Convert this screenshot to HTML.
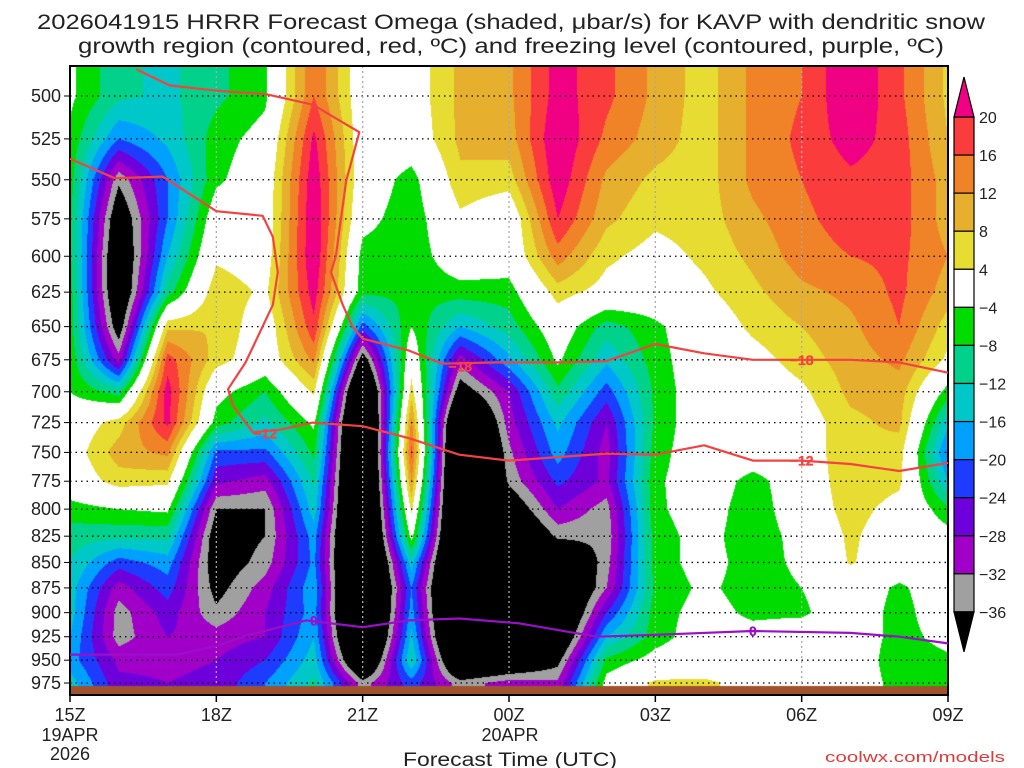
<!DOCTYPE html>
<html><head><meta charset="utf-8">
<style>
html,body{margin:0;padding:0;background:#fff;}
#wrap{position:relative;width:1024px;height:768px;overflow:hidden;background:#fff;}
canvas,svg{position:absolute;left:0;top:0;}
text{font-family:"Liberation Sans",sans-serif;}
</style></head>
<body>
<div id="wrap">
<canvas id="cv" width="1024" height="768"></canvas>
<svg id="sv" width="1024" height="768">
<text x="511" y="29" text-anchor="middle" font-size="21" fill="#222" textLength="948" lengthAdjust="spacingAndGlyphs">2026041915 HRRR Forecast Omega (shaded, μbar/s) for KAVP with dendritic snow</text>
<text x="511" y="53" text-anchor="middle" font-size="21" fill="#222" textLength="866" lengthAdjust="spacingAndGlyphs">growth region (contoured, red, ºC) and freezing level (contoured, purple, ºC)</text>
<text x="70" y="741" text-anchor="middle" font-size="18" fill="#222">19APR</text>
<text x="70" y="760" text-anchor="middle" font-size="18" fill="#222">2026</text>
<text x="510" y="741" text-anchor="middle" font-size="18" fill="#222">20APR</text>
<text x="510" y="766" text-anchor="middle" font-size="19" fill="#222" textLength="214" lengthAdjust="spacingAndGlyphs">Forecast Time (UTC)</text>
<text x="1005" y="762" text-anchor="end" font-size="15" fill="#e03a3a" textLength="180" lengthAdjust="spacingAndGlyphs">coolwx.com/models</text>
</svg>
</div>
<script>
// ---- data ----
const hours = [0,1,2,3,4,5,6,7,8,9,10,11,12,13,14,15,16,17,18];
const xTickLabels = ["15Z","18Z","21Z","00Z","03Z","06Z","09Z"];
const xTickHours = [0,3,6,9,12,15,18];
const levels = [500,525,550,575,600,625,650,675,700,725,750,775,800,825,850,875,900,925,950,975];
const cbBounds = [20,16,12,8,4,-4,-8,-12,-16,-20,-24,-28,-32,-36];
// omega by hour column (values at levels 500..975)
const omegaCols = [
[-3,-5,-6,-7,-7,-6,-6,-5,-4,0,1,0,-6,-10,-12,-14,-14,-16,-18,-14],
[-11,-20,-35,-42,-45,-45,-40,-30,-10,6,10,6,-4,-11,-22,-30,-34,-34,-29,-27],
[-13,-15,-20,-20,-16,-10,7,18,22,21,13,5,-3,-11,-18,-22,-26,-28,-29,-28],
[-9,-6,-5,0,3,7,8,6,-2,-6,-21,-27,-36,-40,-40,-38,-35,-30,-28,-27],
[-5,-2,0,0,1,3,0,0,-8,-13,-21,-30,-36,-36,-34,-30,-28,-28,-24,-20],
[16,21,23,24,24,22,19,13,5,-3,-7,-11,-14,-18,-19,-17,-18,-16,-14,-11],
[0,0,0,-2,-6,-7,-22,-40,-55,-60,-60,-60,-60,-60,-60,-60,-60,-58,-50,-34],
[1,0,-6,-7,-7,-7,-4,1,6,13,17,12,5,-2,-14,-20,-18,-15,-12,-22],
[9,9,7,3,0,-6,-16,-30,-40,-55,-60,-60,-60,-60,-60,-60,-60,-58,-50,-34],
[11,10,6,-1,-1,-6,-10,-17,-28,-30,-33,-35,-42,-48,-50,-50,-50,-50,-45,-30],
[22,24,23,20,14,6,0,-3,-9,-15,-18,-23,-28,-35,-45,-50,-50,-46,-38,-31],
[17,15,11,9,5,2,-10,-15,-22,-28,-30,-29,-34,-35,-34,-32,-24,-16,-7,-2],
[11,10,7,5,2,0,-5,-6,-7,-7,-6,-5,-5,-6,-6,-7,-6,-6,-2,5],
[6,6,6,6,5,3,0,0,0,0,0,0,-1,-2,-2,-3,-2,-1,0,5],
[13,13,13,11,9,7,5,2,0,0,0,-6,-7,-7,-6,-6,-5,-2,0,2],
[16,17,16,15,14,11,8,6,3,1,0,0,0,-2,-3,-4,-5,0,0,0],
[24,22,19,18,16,13,11,10,9,7,8,7,6,5,4.5,0,0,0,0,0],
[17,18,18,18,17,17,16,13,10,9,6,5,2,0,0,-5,-6,-6,-7,-6],
[7,8,10,10,12,10,6,3,-6,-15,-21,-16,-7,-2,-1,0,0,-2,-5,-5]
];
// contours: [hour, pressure]
const lineM18 = [[1.36,485],[2.04,494],[3,497],[4.02,499],[4.98,505],[5.93,521],[5.66,551],[5.45,600],[5.35,611],[5.59,634],[5.79,650],[6,659],[6.95,668],[7.63,678],[8.8,677],[10,677],[11,676],[12,663],[13,670],[14,675],[15,675],[16,675],[17,677],[18,685]];
const lineM12 = [[0,537],[0.92,549],[1.9,548],[3,570],[3.95,573],[4.16,587],[4.26,611],[4.16,634],[3.6,677],[3.24,698],[3.34,711],[3.75,733],[4.3,731],[4.98,725],[6,728],[6.95,738],[7.98,752],[9,757],[11,751],[12,752],[13,744],[14,757],[15,757],[16,760],[17,766],[18,759]];
const lineZero = [[0,944],[0.82,944],[2.2,944],[3,935],[3.6,924],[4.84,908],[6,915],[6.95,908],[7.98,906],[9.2,911],[10.8,925],[12,923],[14,919],[16,921],[17,925],[18,932]];
const labelsM18 = [[8.0,680],[15.0,675]];
const labelsM12 = [[4.0,734],[15.0,757]];
const labelsZero = [[5.0,908],[14.0,919]];

// ---- axes ----
const X0=70, X1=948, TOP=66, BOT=695, Y500=96, KY=879;
function xOf(h){return X0+h*(X1-X0)/18;}
function yOf(p){return Y500+KY*Math.log(p/500);}
const colors=["#000000","#a0a0a0","#a000c8","#6e00dc","#1e3cff","#00a0ff","#00c8c8","#00d28c","#00dc00","#ffffff","#e6dc32","#e6af2d","#f08228","#fa3c3c","#f00082"];
const edges=[-36,-32,-28,-24,-20,-16,-12,-8,-4,4,8,12,16,20];
function colIdx(v){let i=0;while(i<edges.length&&v>=edges[i])i++;return i;}
function hex(c){return [parseInt(c.substr(1,2),16),parseInt(c.substr(3,2),16),parseInt(c.substr(5,2),16)];}
const rgb=colors.map(hex);

// ---- shading ----
const cv=document.getElementById('cv'),ctx=cv.getContext('2d');
const GB=686;
const img=ctx.createImageData(X1-X0,GB-TOP);
for(let py=TOP;py<GB;py++){
  let p=500*Math.exp((py+0.5-Y500)/KY);
  p=Math.max(levels[0],Math.min(levels[levels.length-1],p));
  let i=0;while(i<levels.length-2&&p>levels[i+1])i++;
  const fy=(p-levels[i])/(levels[i+1]-levels[i]);
  for(let px=X0;px<X1;px++){
    let h=(px+0.5-X0)*18/(X1-X0);
    h=Math.max(0,Math.min(18,h));
    let j=Math.min(17,Math.floor(h));const fx=h-j;
    const v=(omegaCols[j][i]*(1-fx)+omegaCols[j+1][i]*fx)*(1-fy)+(omegaCols[j][i+1]*(1-fx)+omegaCols[j+1][i+1]*fx)*fy;
    const c=rgb[colIdx(v)];const k=((py-TOP)*(X1-X0)+(px-X0))*4;
    img.data[k]=c[0];img.data[k+1]=c[1];img.data[k+2]=c[2];img.data[k+3]=255;
  }
}
ctx.putImageData(img,X0,TOP);
ctx.fillStyle="#a0522d";ctx.fillRect(X0,GB,X1-X0,BOT-GB);

// ---- svg overlay ----
const NS="http://www.w3.org/2000/svg",sv=document.getElementById('sv');
function mk(t,a){const e=document.createElementNS(NS,t);for(const k in a)e.setAttribute(k,a[k]);sv.appendChild(e);return e;}
levels.forEach(function(p){
  const y=yOf(p);
  const g=mk('line',{x1:X0,x2:X1,y1:y,y2:y,stroke:'#000','stroke-width':1.3,'stroke-dasharray':'1.5,4'});
  
  
  const t=mk('line',{x1:X0-6,x2:X0,y1:y,y2:y,stroke:'#000','stroke-width':1});
  
  
  const l=mk('text',{x:X0-9,y:y+6,'text-anchor':'end','font-size':18,fill:'#222'});
  l.textContent=p;
  
  
});
xTickHours.forEach(function(h,k){
  const x=xOf(h);
  if(k>0&&k<xTickHours.length-1){
    const g=mk('line',{x1:x,x2:x,y1:TOP,y2:GB,stroke:'#aaa','stroke-width':1.3,'stroke-dasharray':'2,3'});
    
    
  }
  const t=mk('line',{x1:x,x2:x,y1:BOT,y2:BOT+7,stroke:'#000','stroke-width':1.5});
  
  
  const l=mk('text',{x:x,y:721,'text-anchor':'middle','font-size':18,fill:'#222'});
  l.textContent=xTickLabels[k];
  
  
});
const fr=mk('rect',{x:X0,y:TOP,width:X1-X0,height:BOT-TOP,fill:'none',stroke:'#000','stroke-width':2});


function drawLine(pts,col,name){
  const d=pts.map(function(q,i){return (i?'L':'M')+xOf(q[0]).toFixed(1)+','+yOf(q[1]).toFixed(1);}).join('');
  const e=mk('path',{d:d,fill:'none',stroke:col,'stroke-width':2.2,'stroke-linejoin':'round'});
  
  
}
drawLine(lineM18,'#f44242','contour-minus18');
drawLine(lineM12,'#f44242','contour-minus12');
drawLine(lineZero,'#9a10c8','contour-freezing-0');
function drawLabels(arr,txt,col,name){
  arr.forEach(function(q){
    const x=xOf(q[0]),y=yOf(q[1]);
    const e=mk('text',{x:x,y:y+5,'text-anchor':'middle','font-size':14,'font-weight':'bold',fill:col,stroke:col,'stroke-width':0.3});
    e.textContent=txt;
    
    
  });
}
drawLabels(labelsM18,'−18','#f44242','label-minus18');
drawLabels(labelsM12,'−12','#f44242','label-minus12');
drawLabels(labelsZero,'0','#9a10c8','label-freezing-0');
// colorbar
const CBX=954,CBW=20,CBT=117,CBS=38.07;
const cbColors=colors.slice(1,14).reverse();
cbColors.forEach(function(c,i){
  const r=mk('rect',{x:CBX,y:CBT+i*CBS,width:CBW,height:CBS,fill:c,stroke:'#000','stroke-width':1.2});
  
  
});
const tt=mk('polygon',{points:CBX+','+CBT+' '+(CBX+CBW)+','+CBT+' '+(CBX+CBW/2)+','+(CBT-40),fill:colors[14],stroke:'#000','stroke-width':1.2});


const cbB=CBT+13*CBS;
const tb=mk('polygon',{points:CBX+','+cbB+' '+(CBX+CBW)+','+cbB+' '+(CBX+CBW/2)+','+(cbB+40),fill:'#000',stroke:'#000','stroke-width':1.2});


cbBounds.forEach(function(v,i){
  const l=mk('text',{x:979,y:CBT+i*CBS+6,'font-size':16,fill:'#222'});
  l.textContent=(v<0?'−':'')+Math.abs(v);
  
  
});
</script>
</body></html>
